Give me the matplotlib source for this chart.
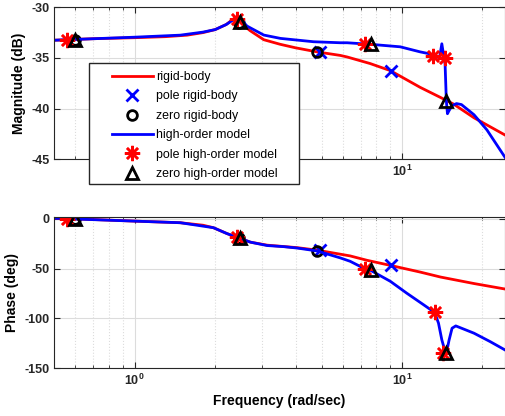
import matplotlib
matplotlib.use('Agg')
import matplotlib.pyplot as plt
import matplotlib.ticker as ticker
import numpy as np
from matplotlib import rcParams
from matplotlib.patches import Rectangle

config = {
    "font.family": ['Liberation Sans', 'DejaVu Sans'],
    "font.size": 9,
    "axes.unicode_minus": False,
}
rcParams.update(config)

# magnitude curves (rad/s, dB)
rigid_mag_f = [0.5, 0.56, 0.7, 1.0, 1.3, 1.57, 1.8, 2.0, 2.2, 2.38, 2.5, 2.63, 2.7, 3.04, 3.5,
               4.0, 4.81, 5.88, 6.23, 7.6, 9.05, 11.7, 13.95, 15.6, 18.6, 24.3]
rigid_mag = [-33.25, -33.2, -33.1, -33.0, -32.9, -32.75, -32.5, -32.2, -31.7, -31.0, -31.4, -32.05,
             -32.3, -33.2, -33.65, -34.0, -34.4, -34.75, -34.9, -35.55, -36.25, -37.9, -38.9,
             -39.55, -40.9, -42.6]
high_mag_f = [0.5, 0.56, 1.0, 1.48, 1.8, 2.0, 2.2, 2.38, 2.5, 2.63, 3.04, 3.51, 4.67, 5.88, 6.23,
              7.6, 9.85, 11.7, 12.75, 13.1, 13.83, 14.1, 14.37, 14.5, 14.66, 14.8, 15.0, 15.4,
              16.0, 16.7, 18.6, 20.8, 24.3]
high_mag = [-33.25, -33.2, -32.95, -32.75, -32.45, -32.2, -31.7, -31.1, -31.2, -31.85, -32.74,
            -33.07, -33.4, -33.5, -33.5, -33.65, -33.9, -34.4, -34.6, -34.85, -34.95, -33.6,
            -35.0, -35.6, -39.24, -40.5, -40.2, -39.7, -39.5, -39.6, -40.6, -42.1, -44.8]

# phase curves (rad/s, deg)
rigid_ph_f = [0.5, 0.56, 0.7, 1.0, 1.48, 1.8, 1.97, 2.21, 2.45, 2.71, 3.13, 4.05, 4.81, 6.4,
              7.4, 9.05, 11.7, 13.95, 18.6, 24.3]
rigid_ph = [0.5, 0.0, -0.8, -2.4, -4.0, -6.5, -9.0, -14.8, -19.3, -23.5, -26.5, -29.0, -31.5,
            -37.3, -41.7, -46.8, -53.5, -58.5, -65.0, -70.5]
high_ph_f = [0.5, 0.56, 1.0, 1.48, 1.97, 2.21, 2.45, 2.71, 3.13, 3.61, 4.05, 4.81, 5.88, 6.4,
             7.3, 7.6, 9.05, 10.4, 12.05, 13.25, 13.7, 14.1, 14.5, 14.66, 15.0, 15.4, 15.9,
             18.6, 21.4, 24.3]
high_ph = [0.5, 0.0, -2.4, -4.0, -9.0, -14.8, -19.3, -23.5, -26.9, -28.0, -29.4, -32.3, -39.3,
           -42.7, -50.5, -51.5, -62.8, -74.5, -86.3, -94.0, -104.7, -121.5, -133.0, -135.0,
           -122.0, -109.8, -107.5, -114.8, -123.3, -131.6]

# pole / zero markers
rp_f, rp_mag, rp_ph = [4.95, 9.1], [-34.4, -36.3], [-31.5, -46.7]
rz_f, rz_mag, rz_ph = [0.6, 2.45, 4.81], [-33.2, -31.6, -34.4], [-0.5, -19.5, -32.0]
hp_f_mag = [0.56, 2.42, 7.25, 13.1, 14.5]
hp_mag = [-33.2, -31.2, -33.6, -34.85, -35.0]
hp_f_ph = [0.56, 2.42, 7.25, 13.25, 14.2]
hp_ph = [0.0, -18.5, -50.5, -93.5, -135.0]
hz_f = [0.6, 2.47, 7.66, 14.66]
hz_mag = [-33.2, -31.5, -33.65, -39.24]
hz_ph = [-0.5, -19.3, -51.5, -134.5]

labels = ['rigid-body', 'pole rigid-body', 'zero rigid-body',
          'high-order model', 'pole high-order model', 'zero high-order model']

ast = (8, 2, 0)
sci = ticker.LogFormatterSciNotation()


def draw(ax, rf, rv, hf, hv, rpv, rzv, hpf, hpv, hzv):
    ax.plot(rf, rv, color='red', lw=2, label=labels[0])
    ax.plot(rp_f, rpv, 'x', color='blue', ms=8, mew=2, label=labels[1])
    ax.plot(rz_f, rzv, 'o', mfc='none', mec='black', ms=7, mew=2, label=labels[2])
    ax.plot(hf, hv, color='blue', lw=2, label=labels[3])
    ax.plot(hpf, hpv, ls='none', marker=ast, color='red', ms=11, mew=1.8, label=labels[4])
    ax.plot(hz_f, hzv, '^', mfc='none', mec='black', ms=8, mew=2, label=labels[5])
    ax.set_xscale('log')
    ax.set_xlim(0.5, 24.3)
    ax.xaxis.set_major_locator(ticker.LogLocator(base=10))
    ax.xaxis.set_minor_locator(ticker.LogLocator(base=10, subs=np.arange(2, 10)))
    ax.xaxis.set_minor_formatter(ticker.NullFormatter())
    ax.grid(True, which='major', color='#dcdcdc', lw=0.8)
    ax.grid(True, which='minor', axis='x', color='#dcdcdc', lw=0.8, ls=':')
    ax.set_axisbelow(True)
    ax.tick_params(which='both', direction='in', top=True, right=True, colors='#262626')
    ax.tick_params(which='major', length=4)
    ax.tick_params(which='minor', length=2.5)
    for s in ax.spines.values():
        s.set_color('#262626')


fig = plt.figure(figsize=(5.05, 4.16), dpi=100)
ax1 = fig.add_axes([0.1075, 0.617, 0.8925, 0.3655])
ax2 = fig.add_axes([0.1075, 0.1147, 0.8925, 0.3643])

draw(ax1, rigid_mag_f, rigid_mag, high_mag_f, high_mag, rp_mag, rz_mag, hp_f_mag, hp_mag, hz_mag)
ax1.set_ylim(-45, -30)
ax1.set_yticks([-45, -40, -35, -30])
ax1.set_ylabel('Magnitude (dB)', fontweight='bold', fontsize=10)
# 10^0 sits behind the legend box in the top panel
ax1.xaxis.set_major_formatter(ticker.FuncFormatter(lambda v, p: '' if abs(v - 1) < 1e-9 else sci(v, p)))

draw(ax2, rigid_ph_f, rigid_ph, high_ph_f, high_ph, rp_ph, rz_ph, hp_f_ph, hp_ph, hz_ph)
ax2.set_ylim(-150, 2)
ax2.set_yticks([-150, -100, -50, 0])
ax2.set_ylabel('Phase (deg)', fontweight='bold', fontsize=10)
ax2.set_xlabel('Frequency (rad/sec)', fontweight='bold', fontsize=10)

for ax in (ax1, ax2):
    for t in ax.get_xticklabels() + ax.get_yticklabels():
        t.set_fontweight('bold')
        t.set_fontsize(9)

W, H = 505.0, 416.0
box = Rectangle((89.3 / W, 1 - 184.0 / H), 210.0 / W, 121.3 / H, transform=fig.transFigure,
                facecolor='white', edgecolor='#262626', lw=1, zorder=3)
fig.patches.append(box)

h, l = ax1.get_legend_handles_labels()
leg = fig.legend(h, l, loc='upper left', bbox_to_anchor=(112.0 / W, 1 - 71.0 / H),
                 bbox_transform=fig.transFigure, fontsize=8.9, frameon=False,
                 handlelength=3.3, handletextpad=0.25, labelspacing=0.6,
                 borderpad=0, borderaxespad=0)
leg.set_zorder(4)

plt.savefig('out.png', dpi=100)
plt.close()
